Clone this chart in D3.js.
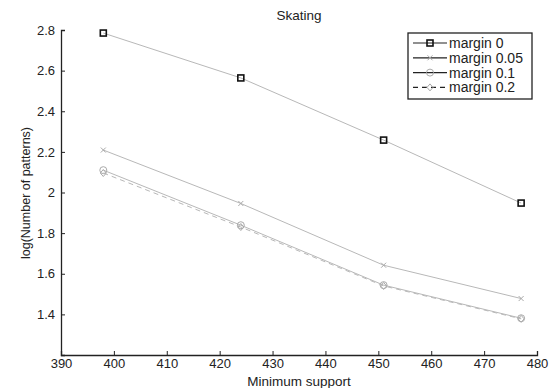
<!DOCTYPE html>
<html>
<head>
<meta charset="utf-8">
<script src="https://cdn.jsdelivr.net/npm/d3@7"></script>
<style>
  body { margin: 0; background: #fff; }
  text { font-family: "Liberation Sans", Arial, sans-serif; fill: #222; }
</style>
</head>
<body>
<div id="chart"></div>
<script>
// data
const supports = [398, 424, 451, 477]
const margin0 = [2.785, 2.564, 2.258, 1.948]
const margin005 = [2.209, 1.946, 1.642, 1.478]
const margin01 = [2.110, 1.839, 1.544, 1.381]
const margin02 = [2.096, 1.830, 1.540, 1.378]
const seriesNames = ['margin 0', 'margin 0.05', 'margin 0.1', 'margin 0.2']
const xTicks = [390, 400, 410, 420, 430, 440, 450, 460, 470, 480]
const yTicks = [1.4, 1.6, 1.8, 2, 2.2, 2.4, 2.6, 2.8]

const W = 560, H = 388
const ud = { ml: 61, mr: 23, mt: 30, mb: 33 } // plot margins

const series = [
  { name: seriesNames[0], values: margin0, marker: 'square', dash: null },
  { name: seriesNames[1], values: margin005, marker: 'x', dash: null },
  { name: seriesNames[2], values: margin01, marker: 'circle', dash: null },
  { name: seriesNames[3], values: margin02, marker: 'diamond', dash: '5,4' },
]

const svg = d3.select('#chart').append('svg')
  .attr('width', W).attr('height', H)

const x = d3.scaleLinear().domain([390, 480]).range([ud.ml, W - ud.mr])
const y = d3.scaleLinear().domain([1.2, 2.8]).range([H - ud.mb, ud.mt])

// axes, ticks pointing inward
const xAxis = svg.append('g')
  .attr('transform', `translate(0,${H - ud.mb})`)
  .call(d3.axisBottom(x).tickValues(xTicks).tickSize(-4).tickPadding(4).tickFormat(d3.format('d')))
const yAxis = svg.append('g')
  .attr('transform', `translate(${ud.ml},0)`)
  .call(d3.axisLeft(y).tickValues(yTicks).tickSize(-4).tickPadding(6).tickFormat(d => d === 2 ? '2' : d3.format('.1f')(d)))

for (const ax of [xAxis, yAxis]) {
  ax.select('.domain').attr('stroke', '#222').attr('stroke-width', 1.3)
  ax.selectAll('.tick line').attr('stroke', '#222')
  ax.selectAll('.tick text').style('font-size', '13px').attr('fill', '#222')
}

const line = d3.line().x((d, i) => x(supports[i])).y(d => y(d))

const drawMarker = (g, type, cx, cy, color) => {
  if (type === 'square') {
    g.append('rect').attr('x', cx - 3).attr('y', cy - 3).attr('width', 6).attr('height', 6)
      .attr('fill', 'none').attr('stroke', color).attr('stroke-width', 1.6)
  } else if (type === 'x') {
    g.append('path').attr('d', `M${cx - 2.5},${cy - 2.5}L${cx + 2.5},${cy + 2.5}M${cx - 2.5},${cy + 2.5}L${cx + 2.5},${cy - 2.5}`)
      .attr('stroke', color).attr('stroke-width', 1)
  } else if (type === 'circle') {
    g.append('circle').attr('cx', cx).attr('cy', cy).attr('r', 3.5)
      .attr('fill', 'none').attr('stroke', color).attr('stroke-width', 1)
  } else if (type === 'diamond') {
    g.append('path').attr('d', `M${cx},${cy - 3.5}L${cx + 3},${cy}L${cx},${cy + 3.5}L${cx - 3},${cy}Z`)
      .attr('fill', 'none').attr('stroke', color).attr('stroke-width', 1)
  }
}

const plot = svg.append('g')
series.forEach(s => {
  plot.append('path')
    .attr('d', line(s.values))
    .attr('fill', 'none')
    .attr('stroke', '#b8b8b8')
    .attr('stroke-width', 1)
    .attr('stroke-dasharray', s.dash)
  s.values.forEach((v, i) => {
    drawMarker(plot, s.marker, x(supports[i]), y(v), s.marker === 'square' ? '#111' : '#aaa')
  })
})

// title and axis labels
svg.append('text').attr('x', (ud.ml + W - ud.mr) / 2).attr('y', 20)
  .attr('text-anchor', 'middle').style('font-size', '13.5px').text('Skating')
svg.append('text').attr('x', (ud.ml + W - ud.mr) / 2).attr('y', 386)
  .attr('text-anchor', 'middle').style('font-size', '13.5px').text('Minimum support')
svg.append('text')
  .attr('transform', `translate(30,193) rotate(-90)`)
  .attr('text-anchor', 'middle').style('font-size', '12.5px').text('log(Number of patterns)')

// legend
const lg = svg.append('g').attr('transform', 'translate(408,33)')
lg.append('rect').attr('width', 124).attr('height', 66)
  .attr('fill', '#fff').attr('stroke', '#222').attr('stroke-width', 1.3)
series.forEach((s, i) => {
  const ry = 10 + i * 14.8
  lg.append('line').attr('x1', 5).attr('x2', 39).attr('y1', ry).attr('y2', ry)
    .attr('stroke', '#222').attr('stroke-width', 1.2).attr('stroke-dasharray', s.dash)
  drawMarker(lg, s.marker, 22, ry, s.marker === 'square' ? '#111' : '#aaa')
  lg.append('text').attr('x', 41).attr('y', ry + 5).style('font-size', '14px').text(s.name)
})
</script>
</body>
</html>
